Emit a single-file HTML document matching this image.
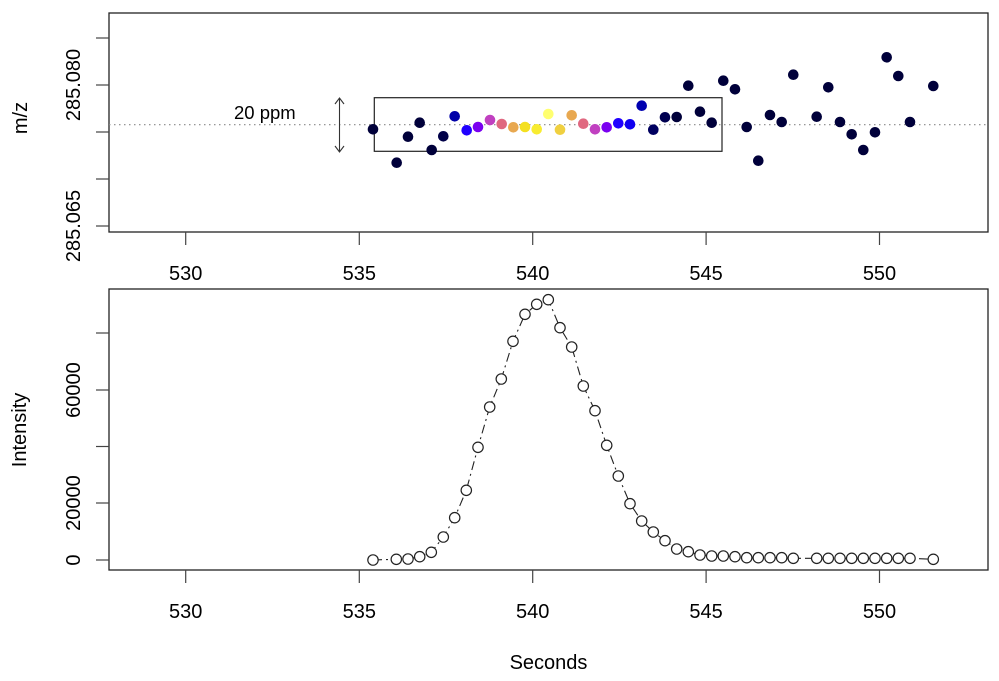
<!DOCTYPE html>
<html><head><meta charset="utf-8"><style>
html,body{margin:0;padding:0;background:#fff;}
svg{display:block;}
text{font-family:"Liberation Sans",sans-serif;fill:#000;}
</style></head><body>
<svg width="999" height="681" viewBox="0 0 999 681" xmlns="http://www.w3.org/2000/svg">
<!-- TOP PANEL -->
<rect x="109" y="13" width="879" height="219" fill="none" stroke="#222" stroke-width="1.3"/>
<line x1="109" y1="124.7" x2="988" y2="124.7" stroke="#888" stroke-width="1.2" stroke-dasharray="1.5,3.5"/>
<g stroke="#444" stroke-width="1.2">
<line x1="96" y1="38" x2="109" y2="38"/><line x1="96" y1="85" x2="109" y2="85"/><line x1="96" y1="132" x2="109" y2="132"/><line x1="96" y1="179" x2="109" y2="179"/><line x1="96" y1="226" x2="109" y2="226"/>
<line x1="185.7" y1="232" x2="185.7" y2="245"/><line x1="359.3" y1="232" x2="359.3" y2="245"/><line x1="532.7" y1="232" x2="532.7" y2="245"/><line x1="706.1" y1="232" x2="706.1" y2="245"/><line x1="879.5" y1="232" x2="879.5" y2="245"/>
</g>
<g font-size="20" text-anchor="middle">
<text x="185.7" y="280">530</text><text x="359.3" y="280">535</text><text x="532.7" y="280">540</text><text x="706.1" y="280">545</text><text x="879.5" y="280">550</text>
<text transform="translate(80,85) rotate(-90)">285.080</text>
<text transform="translate(80,226) rotate(-90)">285.065</text>
<text transform="translate(27,118) rotate(-90)">m/z</text>
</g>
<rect x="374.3" y="97.7" width="347.7" height="53.6" fill="none" stroke="#222" stroke-width="1.2"/>
<g stroke="#333" stroke-width="1.1" fill="none">
<line x1="339.5" y1="98" x2="339.5" y2="152"/>
<polyline points="335,104 339.5,98 344,104"/>
<polyline points="335,146 339.5,152 344,146"/>
</g>
<text x="234" y="119" font-size="18.5">20 ppm</text>
<g stroke="none">
<circle cx="373" cy="129.3" r="5.3" fill="#00003a"/>
<circle cx="396.7" cy="162.7" r="5.3" fill="#00003a"/>
<circle cx="408" cy="136.7" r="5.3" fill="#00003a"/>
<circle cx="419.7" cy="122.7" r="5.3" fill="#00003a"/>
<circle cx="431.7" cy="150" r="5.3" fill="#00003a"/>
<circle cx="443.3" cy="136.3" r="5.3" fill="#000048"/>
<circle cx="454.7" cy="116.3" r="5.3" fill="#0000a8"/>
<circle cx="466.7" cy="130.3" r="5.3" fill="#2000ff"/>
<circle cx="478" cy="127" r="5.3" fill="#7a00f0"/>
<circle cx="490" cy="120" r="5.3" fill="#c040c0"/>
<circle cx="501.7" cy="124" r="5.3" fill="#e06880"/>
<circle cx="513.3" cy="127.3" r="5.3" fill="#e8a850"/>
<circle cx="525" cy="127" r="5.3" fill="#f4e020"/>
<circle cx="536.7" cy="129.3" r="5.3" fill="#f8ec30"/>
<circle cx="548.3" cy="114" r="5.3" fill="#ffff70"/>
<circle cx="560" cy="129.7" r="5.3" fill="#f0d040"/>
<circle cx="571.7" cy="115.3" r="5.3" fill="#e8a850"/>
<circle cx="583.3" cy="123.7" r="5.3" fill="#e06880"/>
<circle cx="595" cy="129.3" r="5.3" fill="#c040c0"/>
<circle cx="606.7" cy="127.3" r="5.3" fill="#7a00f0"/>
<circle cx="618.3" cy="123.3" r="5.3" fill="#2000ff"/>
<circle cx="630" cy="124.3" r="5.3" fill="#1000f0"/>
<circle cx="641.7" cy="105.7" r="5.3" fill="#0000b0"/>
<circle cx="653.3" cy="129.7" r="5.3" fill="#000060"/>
<circle cx="665" cy="117.3" r="5.3" fill="#000050"/>
<circle cx="676.7" cy="117" r="5.3" fill="#00003a"/>
<circle cx="688.3" cy="85.7" r="5.3" fill="#00003a"/>
<circle cx="700" cy="111.7" r="5.3" fill="#00003a"/>
<circle cx="711.7" cy="122.7" r="5.3" fill="#00003a"/>
<circle cx="723.3" cy="80.7" r="5.3" fill="#00003a"/>
<circle cx="735" cy="89.3" r="5.3" fill="#00003a"/>
<circle cx="746.7" cy="127" r="5.3" fill="#00003a"/>
<circle cx="758.3" cy="160.7" r="5.3" fill="#00003a"/>
<circle cx="770" cy="115" r="5.3" fill="#00003a"/>
<circle cx="781.7" cy="122" r="5.3" fill="#00003a"/>
<circle cx="793.3" cy="74.7" r="5.3" fill="#00003a"/>
<circle cx="816.7" cy="116.7" r="5.3" fill="#00003a"/>
<circle cx="828.3" cy="87.3" r="5.3" fill="#00003a"/>
<circle cx="840" cy="122" r="5.3" fill="#00003a"/>
<circle cx="851.7" cy="134.3" r="5.3" fill="#00003a"/>
<circle cx="863.3" cy="150" r="5.3" fill="#00003a"/>
<circle cx="875" cy="132.3" r="5.3" fill="#00003a"/>
<circle cx="886.7" cy="57.3" r="5.3" fill="#00003a"/>
<circle cx="898.3" cy="76" r="5.3" fill="#00003a"/>
<circle cx="910" cy="122" r="5.3" fill="#00003a"/>
<circle cx="933.3" cy="86" r="5.3" fill="#00003a"/>
</g>

<!-- BOTTOM PANEL -->
<rect x="109" y="289" width="879" height="281" fill="none" stroke="#222" stroke-width="1.3"/>
<g stroke="#444" stroke-width="1.2">
<line x1="96" y1="333" x2="109" y2="333"/><line x1="96" y1="390" x2="109" y2="390"/><line x1="96" y1="446.5" x2="109" y2="446.5"/><line x1="96" y1="503" x2="109" y2="503"/><line x1="96" y1="560" x2="109" y2="560"/>
<line x1="185.7" y1="570" x2="185.7" y2="583"/><line x1="359.3" y1="570" x2="359.3" y2="583"/><line x1="532.7" y1="570" x2="532.7" y2="583"/><line x1="706.1" y1="570" x2="706.1" y2="583"/><line x1="879.5" y1="570" x2="879.5" y2="583"/>
</g>
<g font-size="20" text-anchor="middle">
<text x="185.7" y="618">530</text><text x="359.3" y="618">535</text><text x="532.7" y="618">540</text><text x="706.1" y="618">545</text><text x="879.5" y="618">550</text>
<text transform="translate(80,390) rotate(-90)">60000</text>
<text transform="translate(80,503) rotate(-90)">20000</text>
<text transform="translate(80,560) rotate(-90)">0</text>
<text transform="translate(26,430) rotate(-90)">Intensity</text>
<text x="548.5" y="669">Seconds</text>
</g>
<polyline fill="none" stroke="#222" stroke-width="1.1" stroke-dasharray="9,4,2,4" points="373,560 396.3,559.3 408,559 419.7,556.7 431.3,552.3 443.3,537 454.7,517.7 466.3,490.3 478,447.3 489.7,407 501.3,379 513,341.3 525,314.3 536.7,304.3 548.3,299.7 560,327.7 571.7,347 583.3,386 595,410.7 606.7,445.3 618.3,476 630,503.7 641.7,521 653.3,532 665,540.7 676.7,549 688.3,551.7 700,555 711.7,556 723.3,556 735,556.7 746.7,557.7 758.3,557.7 770,557.7 781.7,557.7 793.3,558.3 816.7,558.3 828.3,558.3 840,558.3 851.7,558.3 863.3,558.3 875,558.3 886.7,558.3 898.3,558.3 910,558.3 933.3,559.3"/>
<g fill="#fff" stroke="#222" stroke-width="1.2">
<circle cx="373" cy="560" r="5.2"/><circle cx="396.3" cy="559.3" r="5.2"/><circle cx="408" cy="559" r="5.2"/><circle cx="419.7" cy="556.7" r="5.2"/><circle cx="431.3" cy="552.3" r="5.2"/><circle cx="443.3" cy="537" r="5.2"/><circle cx="454.7" cy="517.7" r="5.2"/><circle cx="466.3" cy="490.3" r="5.2"/><circle cx="478" cy="447.3" r="5.2"/><circle cx="489.7" cy="407" r="5.2"/><circle cx="501.3" cy="379" r="5.2"/><circle cx="513" cy="341.3" r="5.2"/><circle cx="525" cy="314.3" r="5.2"/><circle cx="536.7" cy="304.3" r="5.2"/><circle cx="548.3" cy="299.7" r="5.2"/><circle cx="560" cy="327.7" r="5.2"/><circle cx="571.7" cy="347" r="5.2"/><circle cx="583.3" cy="386" r="5.2"/><circle cx="595" cy="410.7" r="5.2"/><circle cx="606.7" cy="445.3" r="5.2"/><circle cx="618.3" cy="476" r="5.2"/><circle cx="630" cy="503.7" r="5.2"/><circle cx="641.7" cy="521" r="5.2"/><circle cx="653.3" cy="532" r="5.2"/><circle cx="665" cy="540.7" r="5.2"/><circle cx="676.7" cy="549" r="5.2"/><circle cx="688.3" cy="551.7" r="5.2"/><circle cx="700" cy="555" r="5.2"/><circle cx="711.7" cy="556" r="5.2"/><circle cx="723.3" cy="556" r="5.2"/><circle cx="735" cy="556.7" r="5.2"/><circle cx="746.7" cy="557.7" r="5.2"/><circle cx="758.3" cy="557.7" r="5.2"/><circle cx="770" cy="557.7" r="5.2"/><circle cx="781.7" cy="557.7" r="5.2"/><circle cx="793.3" cy="558.3" r="5.2"/><circle cx="816.7" cy="558.3" r="5.2"/><circle cx="828.3" cy="558.3" r="5.2"/><circle cx="840" cy="558.3" r="5.2"/><circle cx="851.7" cy="558.3" r="5.2"/><circle cx="863.3" cy="558.3" r="5.2"/><circle cx="875" cy="558.3" r="5.2"/><circle cx="886.7" cy="558.3" r="5.2"/><circle cx="898.3" cy="558.3" r="5.2"/><circle cx="910" cy="558.3" r="5.2"/><circle cx="933.3" cy="559.3" r="5.2"/>
</g>
</svg>
</body></html>
